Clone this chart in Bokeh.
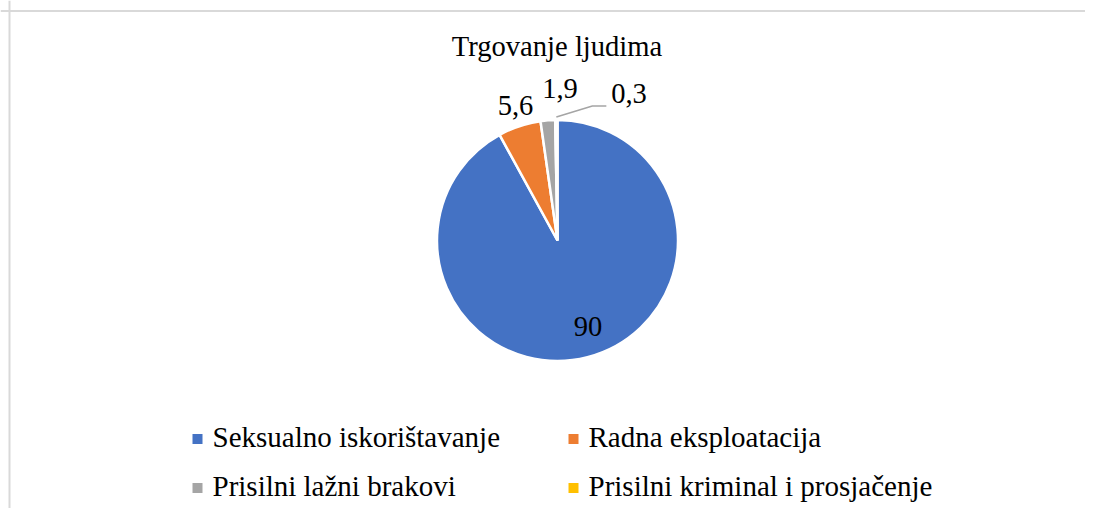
import math
from bokeh.plotting import figure
from bokeh.models import Range1d, Span, ColumnDataSource
from bokeh.core.properties import value
from bokeh.embed import file_html
from bokeh.resources import INLINE

# ---- data ----
title_text = "Trgovanje ljudima"
categories = ["Seksualno iskorištavanje", "Radna eksploatacija",
              "Prisilni lažni brakovi", "Prisilni kriminal i prosjačenje"]
values = [90, 5.6, 1.9, 0.3]
colors = ["#4472C4", "#ED7D31", "#A5A5A5", "#FFC000"]

FONT = value("Liberation Serif")

W, H = 1085, 508
p = figure(width=W, height=H, output_backend="svg", toolbar_location=None,
           x_axis_location=None, y_axis_location=None,
           x_range=Range1d(0, W), y_range=Range1d(0, H),
           min_border=0, min_border_left=0, min_border_right=0,
           min_border_top=0, min_border_bottom=0)
p.grid.visible = False
p.outline_line_color = None
p.background_fill_color = "white"
p.border_fill_color = "white"

def sy(screen_y):
    return H - screen_y

TXT = 10.5  # compensation so text baselines land where intended

# chart-area border (left and top visible)
p.add_layout(Span(location=9, dimension="height", line_color="#d9d9d9", line_width=2))
p.add_layout(Span(location=sy(10.5), dimension="width", line_color="#d9d9d9", line_width=2))

# ---- pie ----
cx, cy, R = 557, sy(240), 120.5
total = sum(values)
starts, ends, mids = [], [], []
acc = 0.0
for v in values:
    a0 = math.pi / 2 - 2 * math.pi * acc / total
    acc += v
    a1 = math.pi / 2 - 2 * math.pi * acc / total
    starts.append(a0)
    ends.append(a1)
    mids.append((a0 + a1) / 2)

src = ColumnDataSource(dict(start=starts, end=ends, color=colors, cat=categories, val=values))
p.wedge(x=cx, y=cy, radius=R, start_angle="start", end_angle="end", direction="clock",
        fill_color="color", line_color="white", line_width=2.5, source=src)

# title
p.text(x=[556.5], y=[sy(56) + TXT], text=[title_text], text_font=FONT,
       text_font_size=value("28.6px"), text_align="center", text_baseline="alphabetic",
       text_color="#000000")

# data labels (positions relative to pie centre)
label_offsets = [(30.5, 96), (-42, -125), (2.5, -142), (71.5, -137)]
lab_x = [cx + dx for dx, dy in label_offsets]
lab_y = [cy - dy + TXT for dx, dy in label_offsets]
lab_t = [(("%g" % v).replace(".", ",")) for v in values]
p.text(x=lab_x, y=lab_y, text=lab_t, text_font=FONT, text_font_size=value("28.5px"),
       text_align="center", text_baseline="alphabetic", text_color="#000000")

# leader line for the smallest slice
m = mids[3]
lx0 = cx + R * math.cos(m)
ly0 = cy + R * math.sin(m) + 3
p.line(x=[lx0, lx0 + 36, lx0 + 50], y=[ly0, ly0 + 11, ly0 + 11],
       line_color="#A5A5A5", line_width=1.5)

# ---- legend ----
col_x = [197, 573]
row_y = [438.5, 487.5]
mk_x = [col_x[i % 2] for i in range(len(categories))]
mk_y = [sy(row_y[i // 2]) for i in range(len(categories))]
p.scatter(x=mk_x, y=mk_y, marker="square", size=10, fill_color=colors, line_color=None)
p.text(x=[x + 15 for x in mk_x], y=[y - 8.5 + TXT for y in mk_y], text=categories,
       text_font=FONT, text_font_size=value("29px"), text_align="left",
       text_baseline="alphabetic", text_color="#000000")

open("out.html", "w").write(file_html(p, INLINE))
